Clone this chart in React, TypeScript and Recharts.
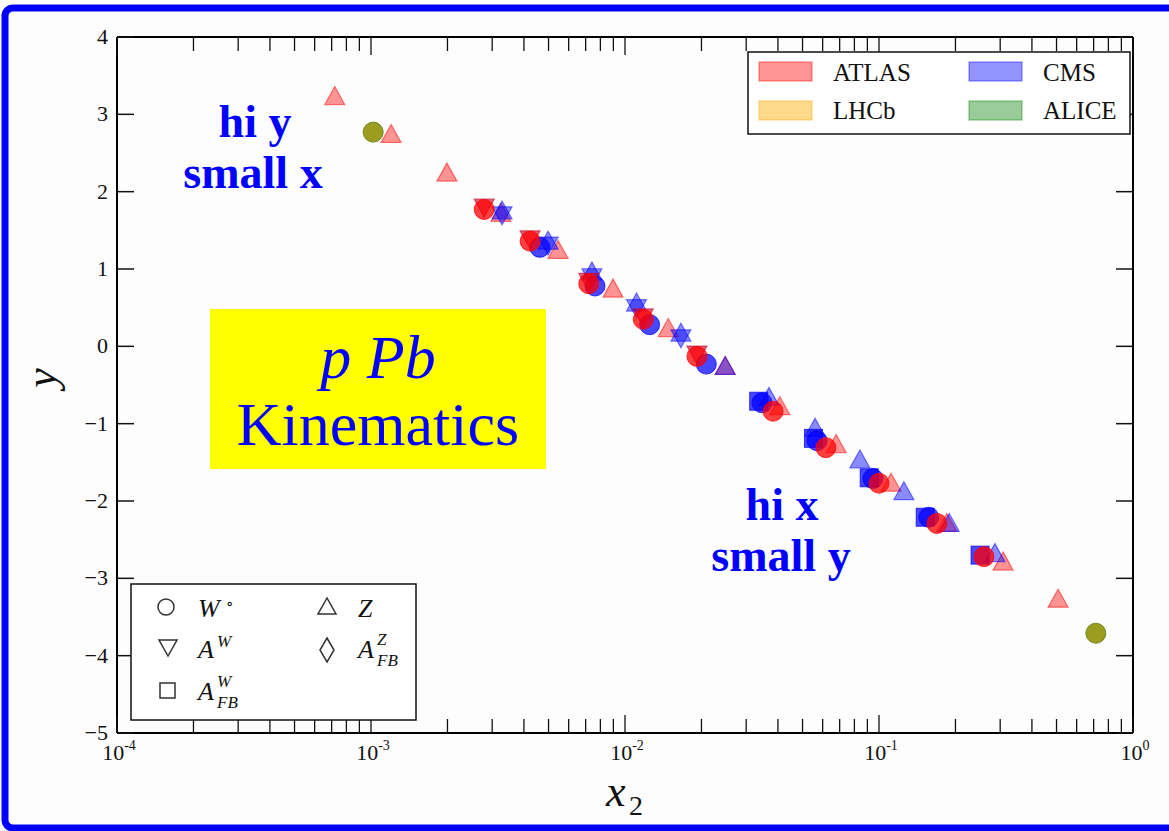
import { ScatterChart, Scatter, XAxis, YAxis } from 'recharts'

type P = { x: number; y: number }

// ATLAS (red)
const atlasW: P[] = [
  { x: 2.79e-3, y: 1.77 }, { x: 4.23e-3, y: 1.36 }, { x: 7.2e-3, y: 0.81 },
  { x: 0.0118, y: 0.35 }, { x: 0.0192, y: -0.13 }, { x: 0.0383, y: -0.84 },
  { x: 0.0618, y: -1.31 }, { x: 0.1, y: -1.77 }, { x: 0.169, y: -2.29 },
  { x: 0.259, y: -2.72 },
]
const atlasAW: P[] = [
  { x: 2.79e-3, y: 1.8 }, { x: 4.23e-3, y: 1.39 }, { x: 7.2e-3, y: 0.84 },
  { x: 0.0118, y: 0.38 }, { x: 0.0192, y: -0.1 },
]
const atlasZ: P[] = [
  { x: 7.2e-4, y: 3.23 }, { x: 1.2e-3, y: 2.74 }, { x: 1.99e-3, y: 2.24 },
  { x: 3.25e-3, y: 1.72 }, { x: 5.45e-3, y: 1.24 }, { x: 8.97e-3, y: 0.74 },
  { x: 0.0148, y: 0.23 }, { x: 0.0248, y: -0.26 }, { x: 0.0407, y: -0.78 },
  { x: 0.0678, y: -1.27 }, { x: 0.1115, y: -1.77 }, { x: 0.185, y: -2.29 },
  { x: 0.308, y: -2.79 }, { x: 0.507, y: -3.27 },
]

// CMS (blue)
const cmsW: P[] = [
  { x: 4.62e-3, y: 1.28 }, { x: 7.62e-3, y: 0.78 }, { x: 0.0125, y: 0.28 },
  { x: 0.0209, y: -0.23 }, { x: 0.0346, y: -0.73 }, { x: 0.057, y: -1.22 },
  { x: 0.0946, y: -1.71 }, { x: 0.157, y: -2.21 },
]
const cmsAW: P[] = [
  { x: 3.28e-3, y: 1.7 }, { x: 4.98e-3, y: 1.31 }, { x: 7.41e-3, y: 0.9 },
  { x: 0.0111, y: 0.5 }, { x: 0.0166, y: 0.11 },
]
const cmsAFBW: P[] = [
  { x: 0.0336, y: -0.71 }, { x: 0.0552, y: -1.19 }, { x: 0.0915, y: -1.7 },
  { x: 0.152, y: -2.21 }, { x: 0.25, y: -2.7 },
]
const cmsZ: P[] = [
  { x: 3.28e-3, y: 1.75 }, { x: 4.98e-3, y: 1.36 }, { x: 7.41e-3, y: 0.96 },
  { x: 0.0111, y: 0.56 }, { x: 0.0166, y: 0.17 }, { x: 0.0248, y: -0.26 },
  { x: 0.0369, y: -0.66 }, { x: 0.056, y: -1.06 }, { x: 0.0841, y: -1.47 },
  { x: 0.1253, y: -1.88 }, { x: 0.189, y: -2.29 }, { x: 0.286, y: -2.68 },
]

// ALICE
const aliceW: P[] = [{ x: 1.02e-3, y: 2.77 }, { x: 0.714, y: -3.71 }]

const xMajor = [1e-4, 1e-3, 1e-2, 1e-1, 1]
const xExp = ['-4', '-3', '-2', '-1', '0']
const xMinorMult = [2, 3, 4, 5, 6, 7, 8, 9]
const xTicks = [
  ...xMajor,
  ...xMajor.slice(0, 4).flatMap(d => xMinorMult.map(m => m * d)),
].sort((a, b) => a - b)
const yTicks = [-5, -4, -3, -2, -1, 0, 1, 2, 3, 4]

const SERIF = '"Liberation Serif", "DejaVu Serif", serif'

function majorIdx(v: number) {
  return xMajor.findIndex(m => Math.abs(v / m - 1) < 1e-6)
}

function marker(kind: string, fill: string, stroke: string, s = 10) {
  return (props: any) => {
    const { cx, cy } = props
    if (cx == null || cy == null) return <g />
    if (kind === 'circle') return <circle cx={cx} cy={cy} r={s} fill={fill} stroke={stroke} strokeWidth={1} />
    if (kind === 'square') return <rect x={cx - s + 1} y={cy - s + 1} width={2 * s - 2} height={2 * s - 2} fill={fill} stroke={stroke} strokeWidth={1} />
    if (kind === 'up')
      return <polygon points={`${cx},${cy - s} ${cx - s},${cy + s * 0.8} ${cx + s},${cy + s * 0.8}`} fill={fill} stroke={stroke} strokeWidth={1.2} />
    return <polygon points={`${cx},${cy + s} ${cx - s},${cy - s * 0.8} ${cx + s},${cy - s * 0.8}`} fill={fill} stroke={stroke} strokeWidth={1.2} />
  }
}

const BottomTick = ({ x, y, payload }: any) => {
  const i = majorIdx(payload.value)
  return (
    <g>
      <line x1={x} x2={x} y1={y} y2={y - (i >= 0 ? 18 : 14)} stroke="#111" strokeWidth={1.3} />
      {i >= 0 && (
        <text x={x + 2} y={y + 27} textAnchor="middle" fontFamily={SERIF} fontSize={22} fill="#111">
          10<tspan dy={-10} fontSize={14}>{xExp[i]}</tspan>
        </text>
      )}
    </g>
  )
}

const TopTick = ({ x, y, payload }: any) => {
  const i = majorIdx(payload.value)
  return <line x1={x} x2={x} y1={y} y2={y + (i >= 0 ? 18 : 14)} stroke="#111" strokeWidth={1.3} />
}

const LeftTick = ({ x, y, payload }: any) => (
  <g>
    <line x1={x} x2={x + 17} y1={y} y2={y} stroke="#111" strokeWidth={1.5} />
    <text x={x - 9} y={y + 7} textAnchor="end" fontFamily={SERIF} fontSize={22} fill="#111">
      {payload.value < 0 ? `\u2212${-payload.value}` : payload.value}
    </text>
  </g>
)

const RightTick = ({ x, y }: any) => (
  <line x1={x} x2={x - 17} y1={y} y2={y} stroke="#111" strokeWidth={1.5} />
)

const RED_L = 'rgba(255,0,0,0.42)'
const RED_LS = 'rgba(255,0,0,0.5)'
const RED_D = 'rgba(255,0,0,0.75)'
const BLUE_L = 'rgba(0,0,255,0.45)'
const BLUE_LS = 'rgba(0,0,255,0.5)'
const BLUE_D = 'rgba(0,0,255,0.72)'

export default function App() {
  return (
    <div style={{ position: 'absolute', left: 0, top: 0, width: 1169, height: 831, background: '#fdfdfd', overflow: 'hidden' }}>
      <ScatterChart width={1169} height={831} margin={{ top: 36, right: 35, bottom: 97, left: 116 }}>
        <XAxis xAxisId="b" dataKey="x" type="number" scale="log" domain={[1e-4, 1]} allowDataOverflow
          ticks={xTicks} interval={0} height={1} tickSize={0} tickMargin={0} tickLine={false}
          axisLine={{ stroke: '#000', strokeWidth: 2 }} tick={<BottomTick />} />
        <XAxis xAxisId="t" dataKey="x" type="number" scale="log" domain={[1e-4, 1]} allowDataOverflow orientation="top"
          ticks={xTicks} interval={0} height={1} tickSize={0} tickMargin={0} tickLine={false}
          axisLine={{ stroke: '#000', strokeWidth: 2 }} tick={<TopTick />} />
        <YAxis yAxisId="l" dataKey="y" type="number" domain={[-5, 4]} allowDataOverflow ticks={yTicks} interval={0}
          width={1} tickSize={0} tickMargin={0} tickLine={false}
          axisLine={{ stroke: '#000', strokeWidth: 2 }} tick={<LeftTick />} />
        <YAxis yAxisId="r" dataKey="y" type="number" domain={[-5, 4]} allowDataOverflow ticks={yTicks} interval={0}
          orientation="right" width={1} tickSize={0} tickMargin={0} tickLine={false}
          axisLine={{ stroke: '#000', strokeWidth: 2 }} tick={<RightTick />} />

        <Scatter name="ATLAS Z" data={atlasZ} xAxisId="b" yAxisId="l" isAnimationActive={false} shape={marker('up', RED_L, RED_LS)} />
        <Scatter name="CMS Z" data={cmsZ} xAxisId="b" yAxisId="l" isAnimationActive={false} shape={marker('up', BLUE_L, BLUE_LS)} />
        <Scatter name="CMS AW" data={cmsAW} xAxisId="b" yAxisId="l" isAnimationActive={false} shape={marker('down', BLUE_L, BLUE_LS)} />
        <Scatter name="CMS AFBW" data={cmsAFBW} xAxisId="b" yAxisId="l" isAnimationActive={false} shape={marker('square', BLUE_D, BLUE_D)} />
        <Scatter name="CMS W" data={cmsW} xAxisId="b" yAxisId="l" isAnimationActive={false} shape={marker('circle', BLUE_D, BLUE_D)} />
        <Scatter name="ATLAS AW" data={atlasAW} xAxisId="b" yAxisId="l" isAnimationActive={false} shape={marker('down', 'rgba(200,0,40,0.6)', 'rgba(200,0,40,0.6)')} />
        <Scatter name="ATLAS W" data={atlasW} xAxisId="b" yAxisId="l" isAnimationActive={false} shape={marker('circle', RED_D, RED_D)} />
        <Scatter name="ALICE W" data={aliceW} xAxisId="t" yAxisId="r" isAnimationActive={false} shape={marker('circle', '#9c9c20', '#708a20')} />
      </ScatterChart>

      <svg width={1169} height={831} style={{ position: 'absolute', left: 0, top: 0, pointerEvents: 'none' }}>
        {/* frame */}
        <rect x={5} y={8} width={1180} height={820} rx={8} fill="none" stroke="#0000ff" strokeWidth={7} />

        {/* axis titles */}
        <text x={56} y={378} transform="rotate(-90 56 378)" textAnchor="middle" fontFamily={SERIF} fontStyle="italic" fontSize={44} fill="#111">y</text>
        <text x={606} y={806} fontFamily={SERIF} fontStyle="italic" fontSize={44} fill="#111">x</text>
        <text x={629} y={815} fontFamily={SERIF} fontSize={28} fill="#111">2</text>

        {/* annotations */}
        <g fontFamily={SERIF} fontWeight="bold" fontSize={46} fill="#0000ff" textAnchor="middle">
          <text x={255} y={137}>hi y</text>
          <text x={253} y={188}>small x</text>
          <text x={782} y={520}>hi x</text>
          <text x={781} y={571}>small y</text>
        </g>
        <rect x={210} y={309} width={336} height={160} fill="#ffff00" />
        <text x={378} y={378} textAnchor="middle" fontFamily={SERIF} fontStyle="italic" fontSize={62} fill="#0000ff">p Pb</text>
        <text x={378} y={445} textAnchor="middle" fontFamily={SERIF} fontSize={62} fill="#0000ff">Kinematics</text>

        {/* experiment legend */}
        <rect x={748} y={52} width={382} height={82} fill="#fff" stroke="#111" strokeWidth={1.5} />
        <rect x={759} y={62} width={53} height={19} fill="rgba(255,0,0,0.42)" stroke="rgba(255,0,0,0.35)" strokeWidth={1.5} />
        <rect x={969} y={62} width={53} height={19} fill="rgba(0,0,255,0.42)" stroke="rgba(0,0,255,0.35)" strokeWidth={1.5} />
        <rect x={759} y={101} width={53} height={19} fill="rgba(255,170,0,0.45)" stroke="rgba(255,170,0,0.35)" strokeWidth={1.5} />
        <rect x={969} y={101} width={53} height={19} fill="rgba(0,128,0,0.4)" stroke="rgba(0,128,0,0.35)" strokeWidth={1.5} />
        <g fontFamily={SERIF} fontSize={25} fill="#111">
          <text x={833} y={81}>ATLAS</text>
          <text x={1043} y={81}>CMS</text>
          <text x={833} y={119}>LHCb</text>
          <text x={1043} y={119}>ALICE</text>
        </g>

        {/* observable legend */}
        <rect x={131} y={584} width={285} height={136} fill="#fff" stroke="#111" strokeWidth={1.5} />
        <g fill="none" stroke="#333" strokeWidth={1.5}>
          <circle cx={166} cy={607} r={8} />
          <polygon points="327,598 318,614 336,614" />
          <polygon points="168,656 159,640 177,640" />
          <polygon points="327,638 334,650 327,662 320,650" />
          <rect x={160} y={683} width={15} height={15} />
        </g>
        <g fontFamily={SERIF} fontStyle="italic" fontSize={26} fill="#111">
          <text x={198} y={617}>W<tspan dx={6} dy={-8} fontStyle="normal" fontSize={16}>∘</tspan></text>
          <text x={358} y={617}>Z</text>
          <text x={198} y={658}>A</text>
          <text x={217} y={647} fontSize={17}>W</text>
          <text x={358} y={658}>A</text>
          <text x={377} y={645} fontSize={17}>Z</text>
          <text x={377} y={666} fontSize={17}>FB</text>
          <text x={198} y={700}>A</text>
          <text x={217} y={687} fontSize={17}>W</text>
          <text x={217} y={708} fontSize={17}>FB</text>
        </g>
      </svg>
    </div>
  )
}
